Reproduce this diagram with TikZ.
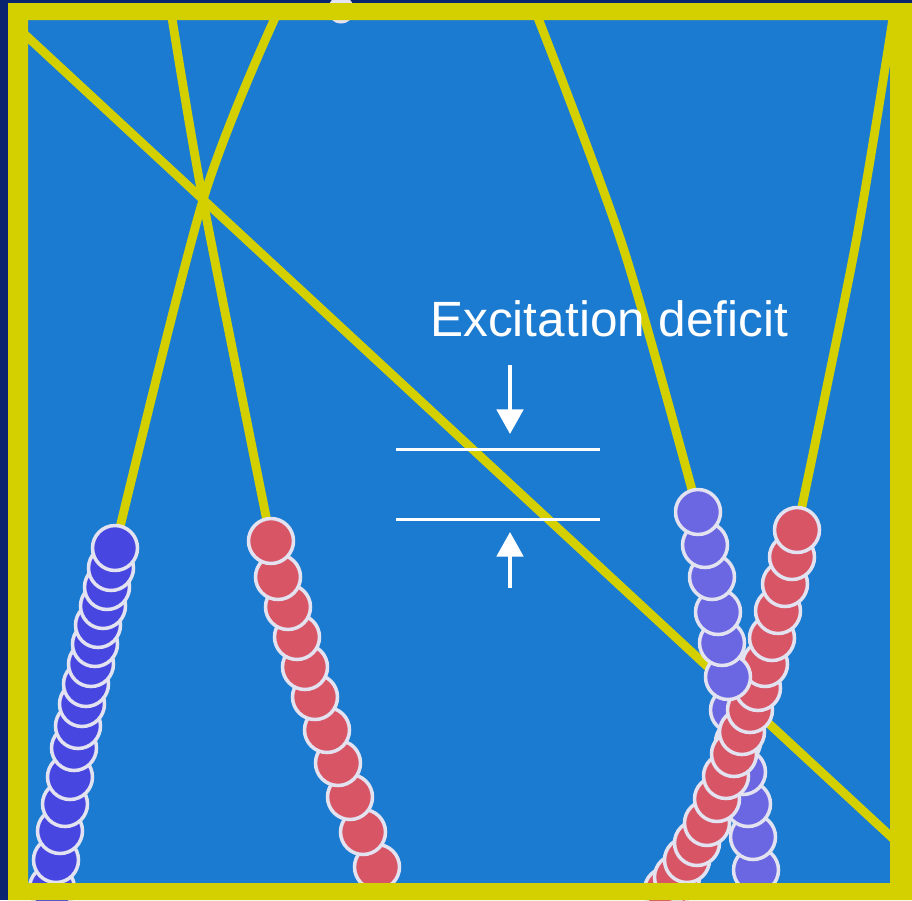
\documentclass[tikz,border=0pt]{standalone}
\usepackage{fontspec}
\newfontfamily\labelfont{Liberation Sans}
\usetikzlibrary{arrows.meta}

\definecolor{navy}{HTML}{0A2470}
\definecolor{tankblue}{HTML}{1B7BD0}
\definecolor{rim}{HTML}{D4D000}
\definecolor{beadblue}{HTML}{4846E0}
\definecolor{beadlilac}{HTML}{6B66E2}
\definecolor{beadred}{HTML}{D85566}
\definecolor{beadrim}{HTML}{E2E2F0}

\tikzset{
  thread/.style={rim, line width=5pt, line cap=round},
  bead/.style={draw=beadrim, line width=2pt},
  marker/.style={white, line width=1.7pt},
  pointer/.style={->, white, line width=2.3pt},
}

\begin{document}
\begin{tikzpicture}[x=0.02cm, y=-0.02cm, >={Triangle[length=14pt,width=15pt]}]
  \useasboundingbox (0,0) rectangle (912,900);
  % Background and box interior
  \fill[navy] (0,0) rectangle (912,900);
  \fill[tankblue] (28,20) rectangle (890,883);
  % Partly hidden bead at the top
  \fill[beadrim] (341,10) circle[radius=0.27cm];
  % Threads
  \draw[thread] (20,30) -- (900,845);
  \draw[thread] plot[smooth] coordinates {(275,18) (203,200) (115,548)};
  \draw[thread] plot[smooth] coordinates {(172,18) (203,200) (271,541)};
  \draw[thread] plot[smooth] coordinates {(538,18) (623,247) (698,512)};
  \draw[thread] plot[smooth] coordinates {(893,18) (855,247) (797,530)};
  % Left blue chain
  \foreach \x/\y in {52/888, 56/860, 60/831, 65/804, 70/777, 74/748, 78/726, 82/704,
                     86/684, 91/664, 95/644, 98/625, 103/606, 107/587, 111/568, 115/548}
    \filldraw[bead, fill=beadblue] (\x,\y) circle[radius=0.45cm];
  % Left red chain
  \foreach \x/\y in {377/867, 363/832, 350/797, 338/763, 327/730, 315/697,
                     305/667, 297/637, 288/607, 278/577, 271/541}
    \filldraw[bead, fill=beadred] (\x,\y) circle[radius=0.45cm];
  % Right blue chain, lower part
  \foreach \x/\y in {756/870, 753/837, 748/804, 743/772, 738/742, 733/710}
    \filldraw[bead, fill=beadlilac] (\x,\y) circle[radius=0.45cm];
  % Right red chain
  \foreach \x/\y in {667/890, 677/877, 687/860, 697/843, 707/823, 717/799, 726/776,
                     734/754, 742/732, 750/710, 758/688, 765/664, 772/638, 778/611,
                     785/584, 792/557, 797/530}
    \filldraw[bead, fill=beadred] (\x,\y) circle[radius=0.45cm];
  % Right blue chain, upper part
  \foreach \x/\y in {728/677, 722/643, 718/612, 712/577, 705/545, 698/512}
    \filldraw[bead, fill=beadlilac] (\x,\y) circle[radius=0.45cm];
  % Frame
  \fill[rim, even odd rule] (8,3) rectangle (912,900) (28,20) rectangle (890,883);
  % Label and markers
  \node[anchor=base west, inner sep=0pt, text=white,
        font=\labelfont\fontsize{28.2}{30}\selectfont] (deficit) at (430,336) {Excitation deficit};
  \coordinate (upperL) at (396,449);
  \coordinate (upperR) at (600,449);
  \coordinate (lowerL) at (396,519);
  \coordinate (lowerR) at (600,519);
  \coordinate (downS) at (510,365);
  \coordinate (downT) at (510,434);
  \coordinate (upS) at (510,588);
  \coordinate (upT) at (510,532);
  \draw[marker] (upperL) -- (upperR);
  \draw[marker] (lowerL) -- (lowerR);
  \draw[pointer] (downS) -- (downT);
  \draw[pointer] (upS) -- (upT);
\end{tikzpicture}
\end{document}
